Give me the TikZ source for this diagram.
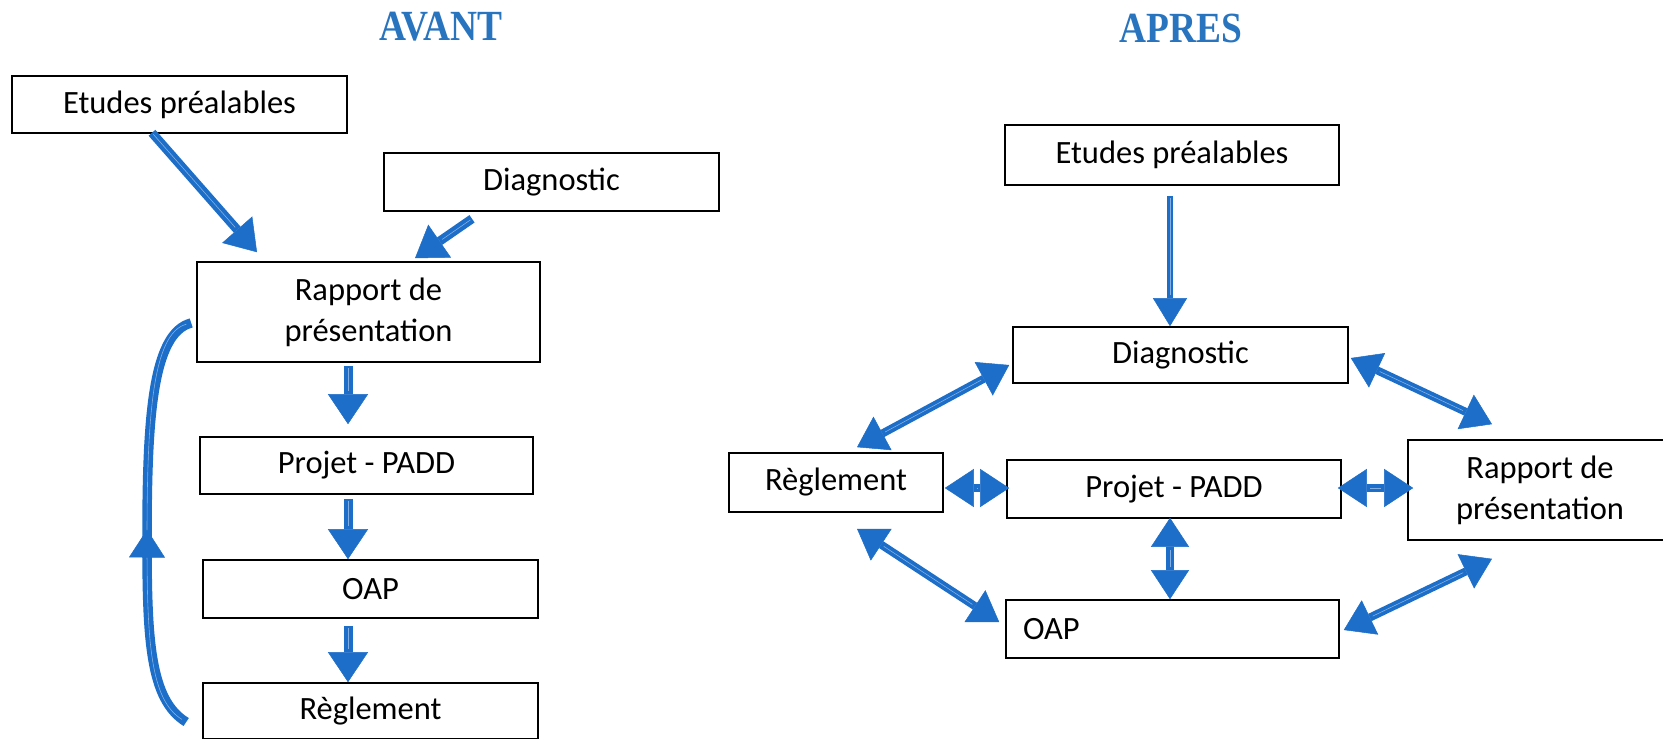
\documentclass[tikz,border=0pt]{standalone}
\usepackage{fontspec}
\usepackage{graphicx}
\setmainfont{Carlito}
\newfontfamily\titlefont{Liberation Serif}
\usetikzlibrary{arrows.meta,calc,decorations.markings}
\definecolor{ablue}{RGB}{28,110,200}
\definecolor{tblue}{RGB}{40,116,190}
\begin{document}
\begin{tikzpicture}[x=1pt,y=-1pt,
  box/.style={draw=black, line width=1.6pt, fill=white, inner sep=0pt, align=center,
    font=\fontsize{32.5}{41}\selectfont},
  ttl/.style={text=tblue, font=\titlefont\bfseries\fontsize{43}{50}\selectfont, inner sep=0pt},
  arr/.style={draw=ablue, line width=9pt,
    -{Triangle[length=30pt,width=40pt,line width=0.5pt]},
    postaction={draw=ablue!55!white, line width=0.6pt, -, shorten >=33pt, shorten <=2pt}},
  thinarr/.style={draw=ablue, line width=6.5pt,
    -{Triangle[length=28pt,width=34pt,line width=0.5pt]},
    postaction={draw=ablue!55!white, line width=0.6pt, -, shorten >=31pt, shorten <=2pt}},
  darr/.style={draw=ablue, line width=8pt,
    {Triangle[length=29pt,width=38pt,line width=0.5pt]}-{Triangle[length=29pt,width=38pt,line width=0.5pt]},
    postaction={draw=ablue!55!white, line width=0.6pt, -, shorten >=32pt, shorten <=32pt}},
  curv/.style={draw=ablue, line width=9.5pt,
    postaction={draw=ablue!55!white, line width=0.6pt, shorten >=5pt, shorten <=5pt},
    postaction={decorate, decoration={markings,
      mark=at position 0.48 with {\arrow{Triangle[length=28pt,width=36pt,line width=0.5pt]}}}}},
]
\useasboundingbox (0,0) rectangle (1663,739);

% titles
\node[ttl] (avant) at (441,27) {\scalebox{0.87}[1]{AVANT}};
\node[ttl] (apres) at (1181,28) {\scalebox{0.87}[1]{APRES}};

% left (AVANT)
\node[box, minimum width=335pt, minimum height=57pt] (etuL) at (179.5,104.5) {Etudes préalables};
\node[box, minimum width=335pt, minimum height=58pt] (diaL) at (551.5,182) {Diagnostic};
\node[box, minimum width=343pt, minimum height=100pt] (rapL) at (368.5,312) {Rapport de\\présentation};
\node[box, minimum width=333pt, minimum height=57pt] (proL) at (366.5,465.5) {Projet - PADD};
\node[box, minimum width=335pt, minimum height=58pt] (oapL) at (370.5,589) {OAP};
\node[box, minimum width=335pt, minimum height=56pt] (regL) at (370.5,711) {Règlement};

\draw[arr] ($(etuL.south)+(-27.5,-1)$) -- ($(rapL.north)+(-111.5,-9)$);
\draw[arr] ($(diaL.south)+(-79.5,7)$) -- ($(rapL.north)+(46.5,-3)$);
\draw[arr] ($(rapL.south)+(-20.5,3)$) -- ($(proL.north)+(-18.5,-12)$);
\draw[arr] ($(proL.south)+(-18.5,4)$) -- ($(oapL.north)+(-22.5,0)$);
\draw[arr] ($(oapL.south)+(-22.5,7)$) -- ($(regL.north)+(-22.5,0)$);
\draw[curv] ($(regL.west)+(-16,11)$) .. controls (150,700) and (147,640) .. (147,540)
  .. controls (147,420) and (152,333) .. ($(rapL.west)+(-5,11)$);

% right (APRES)
\node[box, minimum width=334pt, minimum height=60pt] (etuR) at (1172,155) {Etudes préalables};
\node[box, minimum width=335pt, minimum height=56pt] (diaR) at (1180.5,355) {Diagnostic};
\node[box, minimum width=214pt, minimum height=59pt] (regR) at (836,482.5) {Règlement};
\node[box, minimum width=334pt, minimum height=58pt] (proR) at (1174,489) {Projet - PADD};
\node[box, minimum width=264pt, minimum height=100pt] (rapR) at (1540,490) {Rapport de\\présentation};
\node[box, minimum width=333pt, minimum height=58pt, text width=299pt, inner xsep=17pt, align=left] (oapR) at (1172.5,629) {OAP};

\draw[thinarr] ($(etuR.south)+(-2,10)$) -- ($(diaR.north)+(-10.5,0)$);
\draw[darr] ($(diaR.west)+(-3,10)$) -- ($(regR.north)+(21,-5)$);
\draw[darr] ($(diaR.east)+(2,3)$) -- ($(rapR.north)+(-48,-15)$);
\draw[darr] ($(regR.east)+(1,5.5)$) -- ($(proR.west)+(3,-1)$);
\draw[darr] ($(proR.east)+(-4,-1)$) -- ($(rapR.west)+(6,-2)$);
\draw[darr] ($(proR.south)+(-4,-1)$) -- ($(oapR.north)+(-2.5,0)$);
\draw[darr] ($(regR.south)+(21,16)$) -- ($(oapR.west)+(-6,-7)$);
\draw[darr] ($(oapR.east)+(4,1)$) -- ($(rapR.south)+(-48,18)$);
\end{tikzpicture}
\end{document}
